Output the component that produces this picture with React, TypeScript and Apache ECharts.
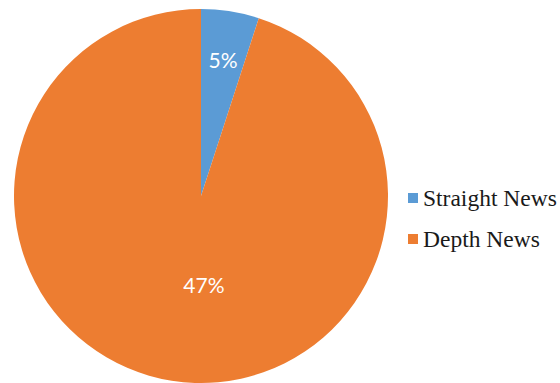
import React, { useEffect, useRef } from "react";
import * as echarts from "echarts";

const categories = ["Straight News", "Depth News"];
const values = [5, 95];
const labelTexts = ["5%", "47%"];
const colors = ["#5B9BD5", "#ED7D31"];

const labelShift = [
  [7, -41],
  [18, -7],
];

export default function App() {
  const ref = useRef<HTMLDivElement>(null);
  useEffect(() => {
    if (!ref.current) return;
    const chart = echarts.init(ref.current, undefined, { renderer: "svg" });
    chart.setOption({
      animation: false,
      backgroundColor: "#ffffff",
      color: colors,
      legend: {
        orient: "vertical",
        left: 403,
        top: 181,
        itemWidth: 10,
        itemHeight: 10,
        itemGap: 17,
        icon: "rect",
        data: categories,
        textStyle: {
          fontFamily: "Liberation Serif",
          fontSize: 23.5,
          lineHeight: 24,
          color: "#1a1a1a",
          padding: [0, 0, 0, 0],
        },
      },
      series: [
        {
          type: "pie",
          center: [201, 196],
          radius: 187,
          startAngle: 90,
          clockwise: true,
          avoidLabelOverlap: false,
          label: {
            show: true,
            position: "inside",
            color: "#ffffff",
            fontFamily: "Lato",
            fontSize: 21,
            formatter: (p: any) => labelTexts[p.dataIndex],
          },
          labelLine: { show: false },
          labelLayout: (p: any) => ({
            dx: labelShift[p.dataIndex][0],
            dy: labelShift[p.dataIndex][1],
          }),
          itemStyle: { borderWidth: 0 },
          emphasis: { disabled: true },
          data: categories.map((name, i) => ({ name, value: values[i] })),
        },
      ],
    });
    return () => chart.dispose();
  }, []);
  return (
    <div
      ref={ref}
      style={{ position: "fixed", left: 0, top: 0, width: 560, height: 383 }}
    />
  );
}
